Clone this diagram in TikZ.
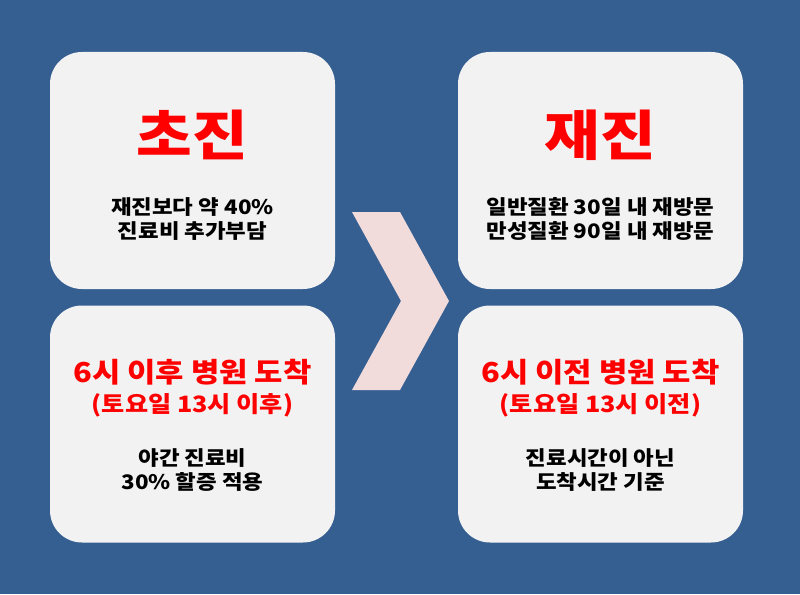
\documentclass[tikz,border=0pt]{standalone}
\usepackage{fontspec}
\newfontfamily\kr{Noto Sans CJK KR}[FakeStretch=1.12]
\usepackage{tikz}
\usetikzlibrary{positioning}
\definecolor{bgblue}{HTML}{365F91}
\definecolor{cardgray}{HTML}{F2F2F2}
\definecolor{chevpink}{HTML}{F2DCDB}
\definecolor{hotred}{HTML}{FF0000}
\tikzset{
  card/.style={fill=cardgray,rounded corners=32pt,minimum width=285pt,minimum height=237pt,inner sep=0pt},
  bigtitle/.style={font=\kr\bfseries\fontsize{54}{58}\selectfont,text=hotred,inner sep=0pt},
  redhead/.style={font=\kr\bfseries\fontsize{27.5}{31}\selectfont,text=hotred,inner sep=0pt},
  redsub/.style={font=\kr\bfseries\fontsize{22.5}{26}\selectfont,text=hotred,inner sep=0pt},
  body/.style={font=\kr\bfseries\fontsize{20}{23.5}\selectfont,text=black,align=center,inner sep=0pt},
}
\begin{document}
\begin{tikzpicture}[x=1pt,y=-1pt]
  \useasboundingbox (0,0) rectangle (800,594);
  \fill[bgblue] (0,0) rectangle (800,594);
  % cards
  \node[card] (first) at (192.5,170.5) {};
  \node[card] (revisit) at (600.5,170.5) {};
  \node[card] (afterhrs) at (192.5,424) {};
  \node[card] (beforehrs) at (600.5,424) {};
  % chevron between the columns
  \fill[chevpink] (352,212) -- (400,212) -- (449,301) -- (400,390) -- (352,390) -- (401,301) -- cycle;
  % top row
  \node[bigtitle] (firstT) at (192.5,135) {초진};
  \node[body] (firstB) at (192.5,219) {재진보다 약 40\%\\진료비 추가부담};
  \node[bigtitle] (revisitT) at (600.5,135) {재진};
  \node[body] (revisitB) at (600.5,219) {일반질환 30일 내 재방문\\만성질환 90일 내 재방문};
  % bottom row
  \node[redhead] (afterT) at (192.5,372) {6시 이후 병원 도착};
  \node[redsub] (afterS) at (192.5,405) {(토요일 13시 이후)};
  \node[body] (afterB) at (192.5,470) {야간 진료비\\30\% 할증 적용};
  \node[redhead] (beforeT) at (600.5,372) {6시 이전 병원 도착};
  \node[redsub] (beforeS) at (600.5,405) {(토요일 13시 이전)};
  \node[body] (beforeB) at (600.5,470) {진료시간이 아닌\\도착시간 기준};
\end{tikzpicture}
\end{document}
